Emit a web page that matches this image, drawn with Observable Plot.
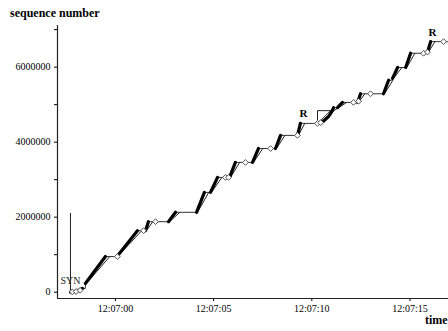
<!DOCTYPE html>
<html>
<head>
<meta charset="utf-8">
<script src="https://cdn.jsdelivr.net/npm/d3@7"></script>
<script src="https://cdn.jsdelivr.net/npm/@observablehq/plot@0.6"></script>
<style>
  html, body { margin: 0; padding: 0; background: #fff; }
  #chart { width: 448px; height: 331px; overflow: hidden; }
</style>
</head>
<body>
<div id="chart"></div>
<script>
// time in seconds after 12:07:00, sequence numbers in bytes
const xDomain = [-2.95, 16.96];
const yDomain = [-168000, 7110000];
const xTickValues = [0, 5, 10, 15];
const xTickLabels = ["12:07:00", "12:07:05", "12:07:10", "12:07:15"];
const yTickValues = [0, 1000000, 2000000, 3000000, 4000000, 5000000, 6000000, 7000000];
const yTickLabels = ["0", "", "2000000", "", "4000000", "", "6000000", ""];

// SYN
const synTime = -2.29;
const synTop = 2100000;

// bursts of data segments: list of [time, seq] points
const bursts = [
  [[-2.29, 0], [-2.0, 20000], [-1.68, 100000]],
  [[-1.53, 230000], [-0.51, 950000]],
  [[0.15, 1000000], [1.12, 1640000]],
  [[1.53, 1640000], [1.68, 1880000]],
  [[2.70, 1880000], [3.06, 2130000]],
  [[4.13, 2130000], [4.53, 2660000]],
  [[4.84, 2660000], [5.20, 3060000]],
  [[5.81, 3060000], [6.11, 3460000]],
  [[6.98, 3460000], [7.28, 3830000]],
  [[8.15, 3830000], [8.41, 4180000]],
  [[9.27, 4180000], [9.42, 4500000]],
  [[10.29, 4500000], [10.6, 4560000], [10.85, 4680000], [11.0, 4800000], [11.11, 4920000]],
  [[11.31, 4920000], [11.56, 5060000]],
  [[12.33, 5060000], [12.48, 5290000]],
  [[13.65, 5290000], [13.91, 5650000]],
  [[14.11, 5700000], [14.37, 5990000]],
  [[14.78, 5990000], [15.03, 6370000]],
  [[15.89, 6400000], [16.05, 6680000]]
];
const traceEnd = 16.97;

// window box around the recovery curve
const boxTimes = [10.29, 10.29, 11.11];
const boxSeqs = [4500000, 4840000, 4840000];

// diamond markers
const diamondTimes = [-2.2, -2.0, -1.8, 0.10, 1.43, 2.04, 5.60, 5.76, 6.62, 7.90, 9.27, 10.29, 10.45, 12.12, 12.38, 12.99, 15.69, 15.89, 16.71];
const diamondSeqs = [10000, 20000, 50000, 950000, 1640000, 1880000, 3060000, 3060000, 3460000, 3830000, 4180000, 4500000, 4520000, 5060000, 5090000, 5290000, 6370000, 6400000, 6680000];

// retransmission labels
const rTimes = [9.58, 16.15];
const rSeqs = [4760000, 6930000];

// ---- build tables ----
const burstPts = bursts.flatMap((b, id) => b.map(([t, s]) => ({t, s, id})));
const ackPath = [];
bursts.forEach((b, i) => {
  const first = b[0], last = b[b.length - 1];
  ackPath.push({t: first[0], s: first[1]});
  ackPath.push({t: last[0], s: last[1]});
  const nextT = i < bursts.length - 1 ? bursts[i + 1][0][0] : traceEnd;
  ackPath.push({t: nextT, s: last[1]});
});
const lagLinks = bursts.slice(1).map(b => ({
  t1: b[0][0] + 0.05, s1: b[0][1], t2: b[b.length - 1][0] + 0.22, s2: b[b.length - 1][1]
}));
const box = boxTimes.map((t, i) => ({t, s: boxSeqs[i]}));
const diamonds = diamondTimes.map((t, i) => ({t, s: diamondSeqs[i]}));
const rLabels = rTimes.map((t, i) => ({t, s: rSeqs[i]}));

const chart = Plot.plot({
  width: 448,
  height: 331,
  marginLeft: 57,
  marginRight: 0,
  marginTop: 25,
  marginBottom: 33,
  style: {fontFamily: "Liberation Serif, serif", fontSize: "10px", background: "white", color: "black"},
  x: {domain: xDomain},
  y: {domain: yDomain},
  marks: [
    Plot.axisX(xTickValues, {tickSize: 3, tickPadding: 3, tickFormat: d => xTickLabels[xTickValues.indexOf(d)], label: null, fontSize: 10}),
    Plot.axisY(yTickValues, {tickSize: 3, tickPadding: 4, tickFormat: d => yTickLabels[yTickValues.indexOf(d)], label: null, fontSize: 10}),
    Plot.ruleX([xDomain[0]], {stroke: "#222", strokeWidth: 1.2}),
    Plot.ruleY([yDomain[0]], {stroke: "#222", strokeWidth: 1.2}),
    Plot.ruleX([synTime], {y1: 0, y2: synTop, stroke: "#222", strokeWidth: 1}),
    Plot.text(["SYN"], {x: synTime, y: 0, dy: -11, text: d => d, fontSize: 10, fill: "#222"}),
    Plot.line(ackPath, {x: "t", y: "s", stroke: "#333", strokeWidth: 1}),
    Plot.link(lagLinks, {x1: "t1", y1: "s1", x2: "t2", y2: "s2", stroke: "#222", strokeWidth: 1}),
    Plot.line(box, {x: "t", y: "s", stroke: "#222", strokeWidth: 1}),
    Plot.line(burstPts, {x: "t", y: "s", z: "id", stroke: "black", strokeWidth: 3.2}),
    Plot.dot(diamonds, {x: "t", y: "s", symbol: "diamond2", r: 2.6, stroke: "#555", fill: "white", strokeWidth: 1}),
    Plot.text(rLabels, {x: "t", y: "s", text: () => "R", fontWeight: "bold", fontSize: 11, fill: "black"})
  ]
});

const svg = d3.select(chart);
svg.append("text").attr("x", 10).attr("y", 17).attr("text-anchor", "start")
  .attr("font-family", "Liberation Serif, serif").attr("font-weight", "bold").attr("font-size", 12)
  .attr("fill", "black").text("sequence number");
svg.append("text").attr("x", 425).attr("y", 324).attr("text-anchor", "start")
  .attr("font-family", "Liberation Serif, serif").attr("font-weight", "bold").attr("font-size", 12)
  .attr("fill", "black").text("time");

document.getElementById("chart").appendChild(chart);
</script>
</body>
</html>
